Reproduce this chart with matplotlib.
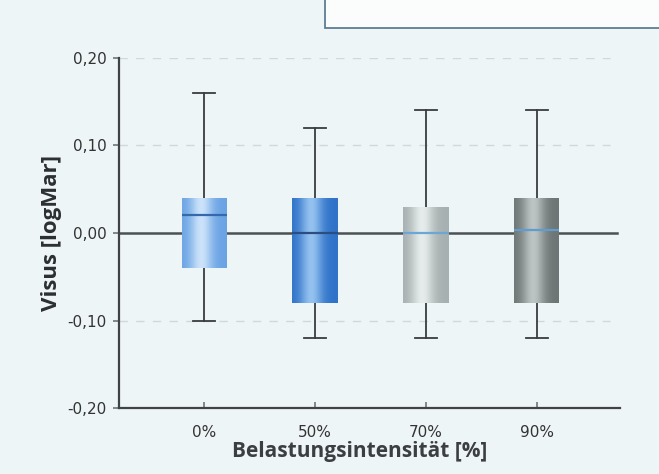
import matplotlib
matplotlib.use("Agg")
import matplotlib.pyplot as plt
import numpy as np
from matplotlib.colors import to_rgb
from matplotlib.patches import Rectangle

# box plot summary per load intensity
labels = ["0%", "50%", "70%", "90%"]
whisker_high = [0.16, 0.12, 0.14, 0.14]
q3 = [0.04, 0.04, 0.03, 0.04]
medians = [0.02, 0.00, 0.00, 0.003]
q1 = [-0.04, -0.08, -0.08, -0.08]
whisker_low = [-0.10, -0.12, -0.12, -0.12]

# cylinder shading: edge colour and highlight colour per box
edge_colors = ["#6aa3e4", "#2f72c8", "#a7b0b0", "#6d7575"]
light_colors = ["#cbe3fa", "#94c2f0", "#e6ecec", "#bcc4c4"]
median_colors = ["#3569ad", "#2b4d80", "#6aa6d6", "#5f9ccf"]

plt.rcParams["font.family"] = ["Liberation Sans Narrow", "DejaVu Sans"]

fig = plt.figure(figsize=(6.59, 4.74), dpi=100, facecolor="#eef5f7")
ax = fig.add_axes([0.1806, 0.139, 0.760, 0.739])
ax.set_facecolor("none")

# panel frame at the top of the page
fig.patches.append(Rectangle((0.493, 0.941), 0.52, 0.07, transform=fig.transFigure,
                             facecolor="#fbfdfd", edgecolor="#5d7d94", lw=1.3))

positions = np.arange(1, len(labels) + 1)
stats = []
for i, lab in enumerate(labels):
    stats.append({"label": lab, "med": medians[i], "q1": q1[i], "q3": q3[i],
                  "whislo": whisker_low[i], "whishi": whisker_high[i], "fliers": []})

# grid and zero line
for y in [0.2, 0.1, -0.1]:
    ax.axhline(y, color="#cfd8dc", lw=1.0, ls=(0, (6, 6)), zorder=0, xmax=0.98)
ax.axhline(0, color="#4c5153", lw=1.8, zorder=1, xmax=0.995)

width = 0.41
bp = ax.bxp(stats, positions=positions, widths=width, patch_artist=True,
            showfliers=False, capwidths=0.2,
            boxprops=dict(edgecolor="none", linewidth=0),
            whiskerprops=dict(color="#3a3d3e", lw=1.3),
            capprops=dict(color="#3a3d3e", lw=1.3),
            medianprops=dict(lw=1.6), zorder=2)

t = np.linspace(0, 1, 256)
profile = np.exp(-((t - 0.42) / 0.24) ** 2)
for i, patch in enumerate(bp["boxes"]):
    patch.set_facecolor(edge_colors[i])
    e = np.array(to_rgb(edge_colors[i]))
    l = np.array(to_rgb(light_colors[i]))
    grad = e[None, :] + (l - e)[None, :] * profile[:, None]
    im = ax.imshow(grad[None, :, :], aspect="auto", interpolation="bicubic",
                   extent=[positions[i] - width / 2, positions[i] + width / 2, q1[i], q3[i]],
                   zorder=2.5)
    im.set_clip_path(patch)
    bp["medians"][i].set_color(median_colors[i])
    bp["medians"][i].set_zorder(3)

ax.set_xlim(0.23, 4.75)
ax.set_ylim(-0.2, 0.2)
ax.set_yticks([-0.2, -0.1, 0.0, 0.1, 0.2])
ax.set_yticklabels(["-0,20", "-0,10", "0,00", "0,10", "0,20"])
ax.set_xticks(positions)
ax.set_xticklabels(labels)

for side in ["top", "right"]:
    ax.spines[side].set_visible(False)
for side in ["left", "bottom"]:
    ax.spines[side].set_color("#3f4345")
    ax.spines[side].set_linewidth(1.6)

ax.tick_params(axis="y", direction="out", length=4, width=1.2, color="#707578",
               labelsize=11, labelcolor="#333", pad=5)
ax.tick_params(axis="x", direction="in", length=4, width=1.2, color="#707578",
               labelsize=11, labelcolor="#333", pad=12)

ax.set_xlabel("Belastungsintensität [%]", fontsize=15, fontweight="bold",
              color="#3c3f41", family=["Open Sans", "DejaVu Sans"], labelpad=2)
ax.xaxis.set_label_coords(0.48, -0.095)
ax.set_ylabel("Visus [logMar]", fontsize=16, fontweight="bold",
              color="#2c2f31", family=["Open Sans", "DejaVu Sans"], labelpad=4)

fig.savefig("out.png", dpi=100, facecolor=fig.get_facecolor())
